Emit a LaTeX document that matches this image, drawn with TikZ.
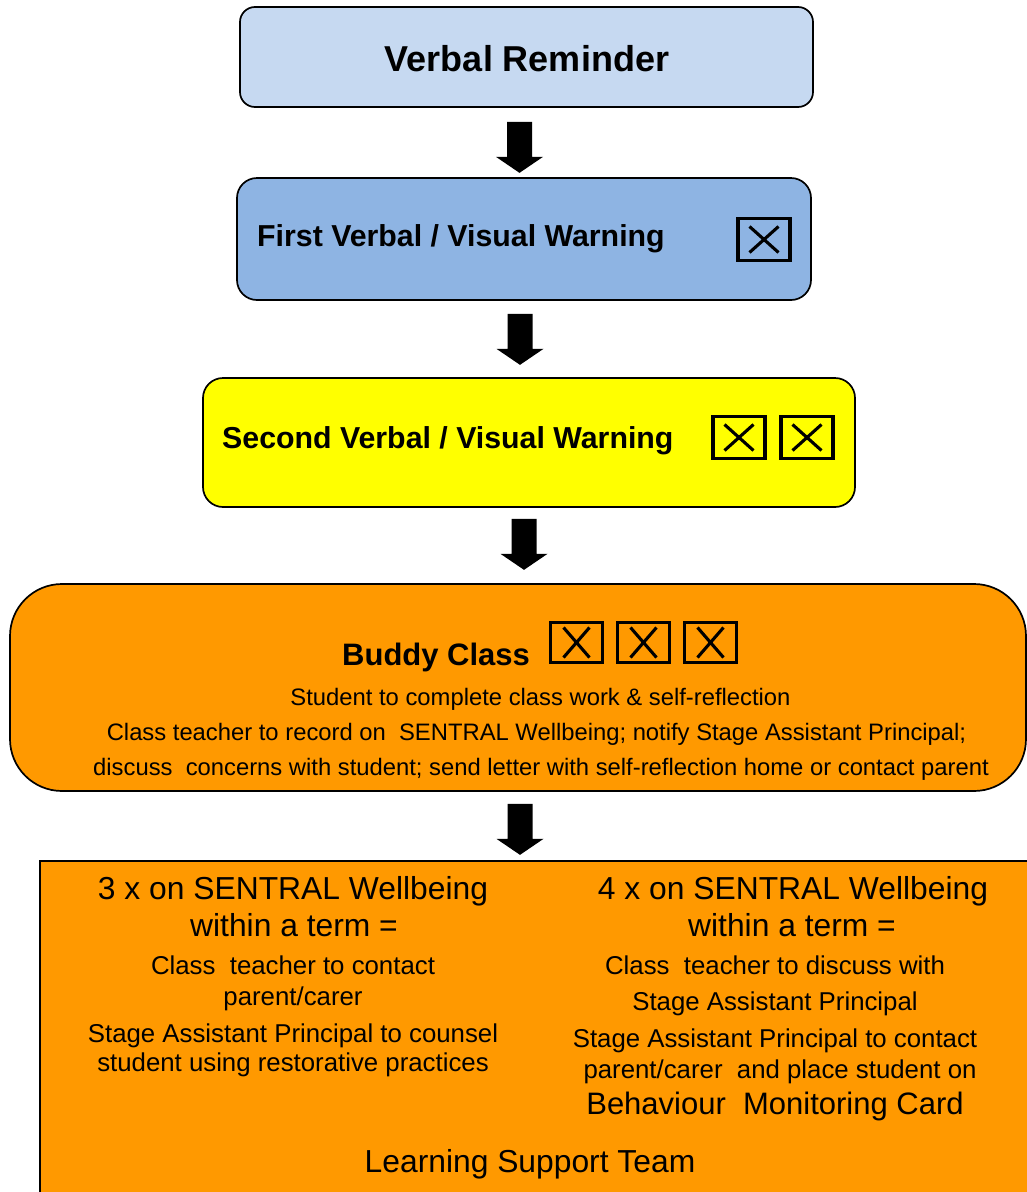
\documentclass[tikz,border=0pt]{standalone}
\usepackage{fontspec}
\setmainfont{Liberation Sans}
\definecolor{lblue}{HTML}{C6D9F1}
\definecolor{mblue}{HTML}{8EB4E3}
\definecolor{yell}{HTML}{FFFF00}
\definecolor{orng}{HTML}{FF9900}
\begin{document}
\begin{tikzpicture}[x=1pt,y=-1pt,
  box/.style={draw=black, line width=1.7pt, inner sep=0pt},
  chk/.style={draw=black, line width=3.6pt, inner sep=0pt, minimum width=52pt, minimum height=42pt,
    path picture={\draw[line width=3.1pt] (path picture bounding box.center) ++(-14.5,-13) -- ++(29,26)
      (path picture bounding box.center) ++(14.5,-13) -- ++(-29,26);}},
  chkb/.style={draw=black, line width=3.6pt, inner sep=0pt, minimum width=52pt, minimum height=40pt,
    path picture={\draw[line width=3.1pt] (path picture bounding box.center) ++(-13,-15) -- ++(26,30)
      (path picture bounding box.center) ++(13,-15) -- ++(-26,30);}},
  big/.style={font=\fontsize{36}{40}\selectfont\bfseries, anchor=base, inner sep=0pt},
  head/.style={font=\fontsize{30.3}{36}\selectfont\bfseries, anchor=base west, inner sep=0pt},
  small/.style={font=\fontsize{23.8}{28}\selectfont, anchor=base, inner sep=0pt},
  colhead/.style={font=\fontsize{31.8}{36}\selectfont, anchor=base, inner sep=0pt},
  coltext/.style={font=\fontsize{25.8}{30}\selectfont, anchor=base, inner sep=0pt},
  blockarrow/.style={fill=black}
]
\useasboundingbox (0,0) rectangle (1027,1192);

% boxes
\node[box, fill=lblue, rounded corners=15pt, minimum width=573pt, minimum height=100pt] (vr) at (526.5,57) {};
\node[box, fill=mblue, rounded corners=20pt, minimum width=574pt, minimum height=122pt] (fw) at (524,239) {};
\node[box, fill=yell, rounded corners=20pt, minimum width=652pt, minimum height=129pt] (sw) at (529,442.5) {};
\node[box, fill=orng, rounded corners=52pt, minimum width=1016pt, minimum height=207pt] (bc) at (518,687.5) {};
\node[box, fill=orng, minimum width=1000pt, minimum height=340pt] (lst) at (540,1031) {};

% titles
\node[big] (vrt) at (527,71) {Verbal Reminder};
\node[head] (fwt) at (257,246) {First Verbal / Visual Warning};
\node[chk] (fwc1) at (764,239.5) {};
\node[head] (swt) at (222,448) {Second Verbal / Visual Warning};
\node[chk] (swc1) at (739,437.5) {};
\node[chk] (swc2) at (807,437.5) {};
\node[head, font=\fontsize{31}{36}\selectfont\bfseries] (bct) at (342,665) {Buddy Class};
\node[chkb] (bcc1) at (576.5,642.5) {};
\node[chkb] (bcc2) at (643.5,642.5) {};
\node[chkb] (bcc3) at (710.5,642.5) {};

% buddy class text
\node[small] (b1) at (540.5,705) {Student to complete class work \& self-reflection};
\node[small] (b2) at (536.5,740) {Class teacher to record on\ \ SENTRAL Wellbeing; notify Stage Assistant Principal;};
\node[small] (b3) at (541,775) {discuss\ \ concerns with student; send letter with self-reflection home or contact parent};

% bottom left column
\node[colhead] (l1) at (293,899) {3 x on SENTRAL Wellbeing};
\node[colhead] (l2) at (294,936) {within a term =};
\node[coltext] (l3) at (293,974) {Class\ \ teacher to contact};
\node[coltext] (l4) at (293,1005) {parent/carer};
\node[coltext] (l5) at (293,1042) {Stage Assistant Principal to counsel};
\node[coltext] (l6) at (293,1071) {student using restorative practices};

% bottom right column
\node[colhead] (r1) at (793,899) {4 x on SENTRAL Wellbeing};
\node[colhead] (r2) at (792,936) {within a term =};
\node[coltext] (r3) at (775,974) {Class\ \ teacher to discuss with};
\node[coltext] (r4) at (775,1010) {Stage Assistant Principal};
\node[coltext] (r5) at (775,1047) {Stage Assistant Principal to contact};
\node[coltext] (r6) at (780,1078) {parent/carer\ \ and place student on};
\node[colhead, font=\fontsize{31}{36}\selectfont] (r7) at (775,1114) {Behaviour\ \ Monitoring Card};
\node[colhead] (lstt) at (530,1172) {Learning Support Team};

% block arrows
\coordinate (a1) at ([xshift=-7pt,yshift=-14pt]vr.south);
\coordinate (a2) at ([xshift=-4pt,yshift=-13pt]fw.south);
\coordinate (a3) at ([xshift=-5pt,yshift=-11pt]sw.south);
\coordinate (a4) at ([xshift=2pt,yshift=-12pt]bc.south);
\foreach \a in {a1,a2,a3,a4}{
  \fill[blockarrow] (\a) ++(-12.5,0) -- ++(25,0) -- ++(0,35) -- ++(11,0) -- ++(-23.5,16) -- ++(-23.5,-16) -- ++(11,0) -- cycle;
}
\end{tikzpicture}
\end{document}
